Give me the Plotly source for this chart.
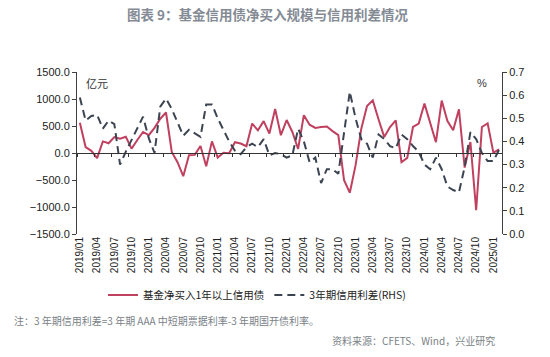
import plotly.graph_objects as go

months = [f"{y}/{m:02d}" for y in range(2019, 2026) for m in range(1, 13)][:74]

net_buy = [560, 110, 40, -95, 215, 180, 295, 265, 300, 80,
           240, 390, 330, 465, 635, 750, 20, -170, -430, -40,
           -35, 130, -245, 215, -85, 5, -5, 200, 175, 125,
           545, 420, 590, 360, 815, 330, 610, 390, 75, 700,
           525, 465, 480, 490, 405, 330, -505, -735, -230, 450,
           870, 975, 625, 295, 480, 605, -170, -90, 482, 544,
           915, 574, 200, 970, 590, 420, 809, -270, 204, -1061,
           482, 550, 5, 65]

spread = [0.59, 0.49, 0.51, 0.515, 0.455, 0.49, 0.475, 0.30, 0.356, 0.406,
          0.457, 0.507, 0.414, 0.35, 0.55, 0.585, 0.54, 0.48, 0.425, 0.45,
          0.435, 0.42, 0.56, 0.56, 0.50, 0.45, 0.40, 0.36, 0.345, 0.375,
          0.39, 0.375, 0.41, 0.34, 0.35, 0.345, 0.33, 0.34, 0.455, 0.40,
          0.31, 0.33, 0.22, 0.28, 0.28, 0.26, 0.45, 0.615, 0.50, 0.41,
          0.39, 0.33, 0.43, 0.41, 0.38, 0.37, 0.43, 0.41, 0.38, 0.355,
          0.30, 0.28, 0.33, 0.28, 0.205, 0.19, 0.18, 0.29, 0.44, 0.41,
          0.35, 0.315, 0.315, 0.365]

name_red = "基金净买入1年以上信用债"
name_dash = "3年期信用利差(RHS)"

RED = "#c0405f"
DARK = "#3c4452"
AX = "#404040"

W, H = 550, 357
L, R, T, B = 77, 48, 72, 123
pw, ph = W - L - R, H - T - B


def px(x):
    return (x - L) / pw


def py(y):
    return (H - B - y) / ph


fig = go.Figure()
fig.add_trace(go.Scatter(x=months, y=net_buy, name=name_red, mode="lines",
                         line=dict(color=RED, width=2), xaxis="x2", yaxis="y"))
fig.add_trace(go.Scatter(x=months, y=spread, name=name_dash, mode="lines",
                         line=dict(color=DARK, width=2, dash="8px,5px"), xaxis="x2", yaxis="y2"))
# helper trace carrying the middle (zero-line) axis
fig.add_trace(go.Scatter(x=months, y=net_buy, mode="lines", opacity=0, showlegend=False,
                         hoverinfo="skip", line=dict(width=0), xaxis="x", yaxis="y"))

tickfont = dict(family="Liberation Sans, Arial", size=11, color="#222")

fig.update_layout(
    width=W, height=H,
    margin=dict(l=L, r=R, t=T, b=B, autoexpand=False),
    paper_bgcolor="white", plot_bgcolor="white",
    showlegend=True,
    xaxis=dict(type="category", categoryorder="array", categoryarray=months,
               anchor="free", position=0.5, overlaying="x2",
               showline=True, linecolor="#333", linewidth=1.3,
               ticks="outside", ticklen=3, tickcolor="#333", tickson="boundaries",
               tick0=0, dtick=3, showticklabels=False, showgrid=False, zeroline=False,
               range=[-0.5, 73.5]),
    xaxis2=dict(type="category", categoryorder="array", categoryarray=months,
                anchor="y", side="bottom", showline=False, ticks="",
                tick0=0, dtick=3, tickangle=-90, showgrid=False, zeroline=False,
                tickfont=dict(family="Liberation Sans, Arial", size=10, color="#222"),
                range=[-0.5, 73.5]),
    yaxis=dict(range=[-1500, 1500], dtick=500, tickformat=".1f",
               showline=True, linecolor=AX, linewidth=1, ticks="outside",
               ticklen=4, tickcolor=AX, showgrid=False, zeroline=False,
               tickfont=tickfont),
    yaxis2=dict(range=[0, 0.7], dtick=0.1, tickformat=".1f", overlaying="y",
                side="right", anchor="x2", showline=True, linecolor=AX, linewidth=1,
                ticks="outside", ticklen=4, tickcolor=AX, showgrid=False,
                zeroline=False, tickfont=tickfont),
    legend=dict(orientation="h", x=px(103), xanchor="left", y=py(295), yanchor="middle",
                font=dict(family="Noto Sans CJK SC", size=10.5, color="#222"),
                bgcolor="rgba(0,0,0,0)", itemwidth=30, tracegroupgap=0),
)

ann = [
    dict(text="图表 9：基金信用债净买入规模与信用利差情况", x=px(268), y=py(14),
         font=dict(family="Noto Sans CJK SC", size=13.5, color="#848b95", weight="bold")),
    dict(text="亿元", x=px(97), y=py(83), font=dict(family="Noto Sans CJK SC", size=11, color="#333")),
    dict(text="%", x=px(482), y=py(83), font=dict(family="Liberation Sans", size=11, color="#333")),
    dict(text="注：3 年期信用利差=3 年期 AAA 中短期票据利率-3 年期国开债利率。", x=px(12), y=py(320),
         xanchor="left", font=dict(family="Noto Sans CJK SC", size=10, color="#7a7f87")),
    dict(text="资料来源：CFETS、Wind，兴业研究", x=px(497), y=py(340),
         xanchor="right", font=dict(family="Noto Sans CJK SC", size=10, color="#7a7f87")),
]
for a in ann:
    a.setdefault("xanchor", "center")
    fig.add_annotation(xref="paper", yref="paper", yanchor="middle", showarrow=False, **a)

fig.write_html("out.html", config={"displayModeBar": False},
               post_script="document.body.style.margin='0';document.body.style.padding='0';")
